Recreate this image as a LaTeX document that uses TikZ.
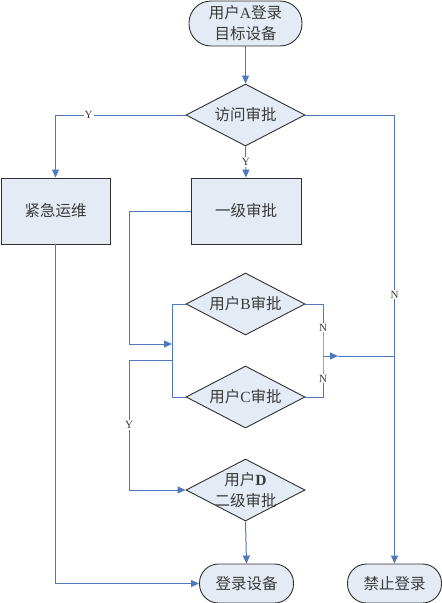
\documentclass[tikz,border=0pt]{standalone}
\usepackage{fontspec}
\setmainfont{Liberation Serif}
\newfontfamily\cjk{Noto Sans CJK SC}
\usetikzlibrary{shapes.geometric,arrows.meta}
\definecolor{fillc}{HTML}{E5EBF5}
\definecolor{linec}{HTML}{5078BE}
\definecolor{bordc}{HTML}{303030}
\definecolor{textc}{HTML}{3A3A3A}
\tikzset{
  base/.style={draw=bordc, line width=0.9pt, fill=fillc, text=textc, inner sep=0pt,
    font=\fontsize{15.5}{21}\selectfont, align=center},
  term/.style={base, rectangle, rounded corners=#1},
  box/.style={base, rectangle},
  dia/.style={base, diamond, minimum width=119pt, minimum height=62pt},
  dlab/.style={text=textc, font=\fontsize{15.5}{21}\selectfont, align=center},
  conn/.style={draw=linec, line width=1pt},
  arr/.style={conn, -{Triangle[length=8pt,width=7pt]}, fill=none},
  yn/.style={fill=white, inner sep=1pt, text=textc, font=\fontsize{11}{12}\selectfont}
}
\newcommand{\cz}[1]{{\cjk #1}}
\begin{document}
\begin{tikzpicture}[x=1pt,y=-1pt]
\useasboundingbox (0,0) rectangle (442,603);
\node[term=22pt, minimum width=113pt, minimum height=45pt] (start) at (245.5,23.5)
  {\cz{用户}A\cz{登录}\\\cz{目标设备}};
\node[dia, label={[dlab]center:\cz{访问审批}}] (d1) at (245.5,115) {};
\node[box, minimum width=109pt, minimum height=66pt] (em) at (55.5,211) {\cz{紧急运维}};
\node[box, minimum width=110pt, minimum height=66pt] (l1) at (246,211) {\cz{一级审批}};
\node[dia, label={[dlab]center:\cz{用户}B\cz{审批}}] (dB) at (245.5,304) {};
\node[dia, label={[dlab]center:\cz{用户}C\cz{审批}}] (dC) at (245.5,397) {};
\node[dia, label={[dlab]center:\cz{用户}\textbf{D}\\\cz{二级审批}}] (dD) at (245.5,490) {};
\node[term=19pt, minimum width=94pt, minimum height=39pt] (login) at (246.5,583.5) {\cz{登录设备}};
\node[term=19pt, minimum width=94pt, minimum height=39pt] (deny) at (394.5,583.5) {\cz{禁止登录}};

\coordinate (lA) at (129,211);
\coordinate (lB) at (129,344);
\coordinate (jL) at (172,344);
\coordinate (jB) at (172,304);
\coordinate (jC) at (172,397);
\coordinate (jY) at (172,360);
\coordinate (lY) at (129,360);
\coordinate (lD) at (129,490);
\coordinate (rB) at (323,304);
\coordinate (rC) at (323,397);
\coordinate (rM) at (323,356);
\coordinate (rA) at (338,356);
\coordinate (rN) at (395,356);

\draw[arr] (start.south) -- (d1.north);
\draw[arr] (d1.west) -| node[yn, pos=0.373] {Y} (em.north);
\draw[arr] (d1.south) -- node[yn, pos=0.5] {Y} (l1.north);
\draw[arr] (d1.east) -| node[yn, pos=0.7] {N} (deny.north);
\draw[conn] (l1.west) -- (lA) -- (lB);
\draw[arr] (lB) -- (jL);
\draw[conn] (dB.west) -- (jB) -- (jC) -- (dC.west);
\draw[conn] (jY) -- (lY);
\draw[arr] (lY) -- node[yn, pos=0.5] {Y} (lD) -- (dD.west);
\draw[conn] (dB.east) -- (rB) -- node[yn, pos=0.45] {N} (rM) -- node[yn, pos=0.55] {N} (rC) -- (dC.east);
\draw[arr] (rM) -- (rA);
\draw[conn] (rA) -- (rN);
\draw[arr] (dD.south) -- (login.north);
\draw[arr] (em.south) |- (login.west);
\end{tikzpicture}
\end{document}
